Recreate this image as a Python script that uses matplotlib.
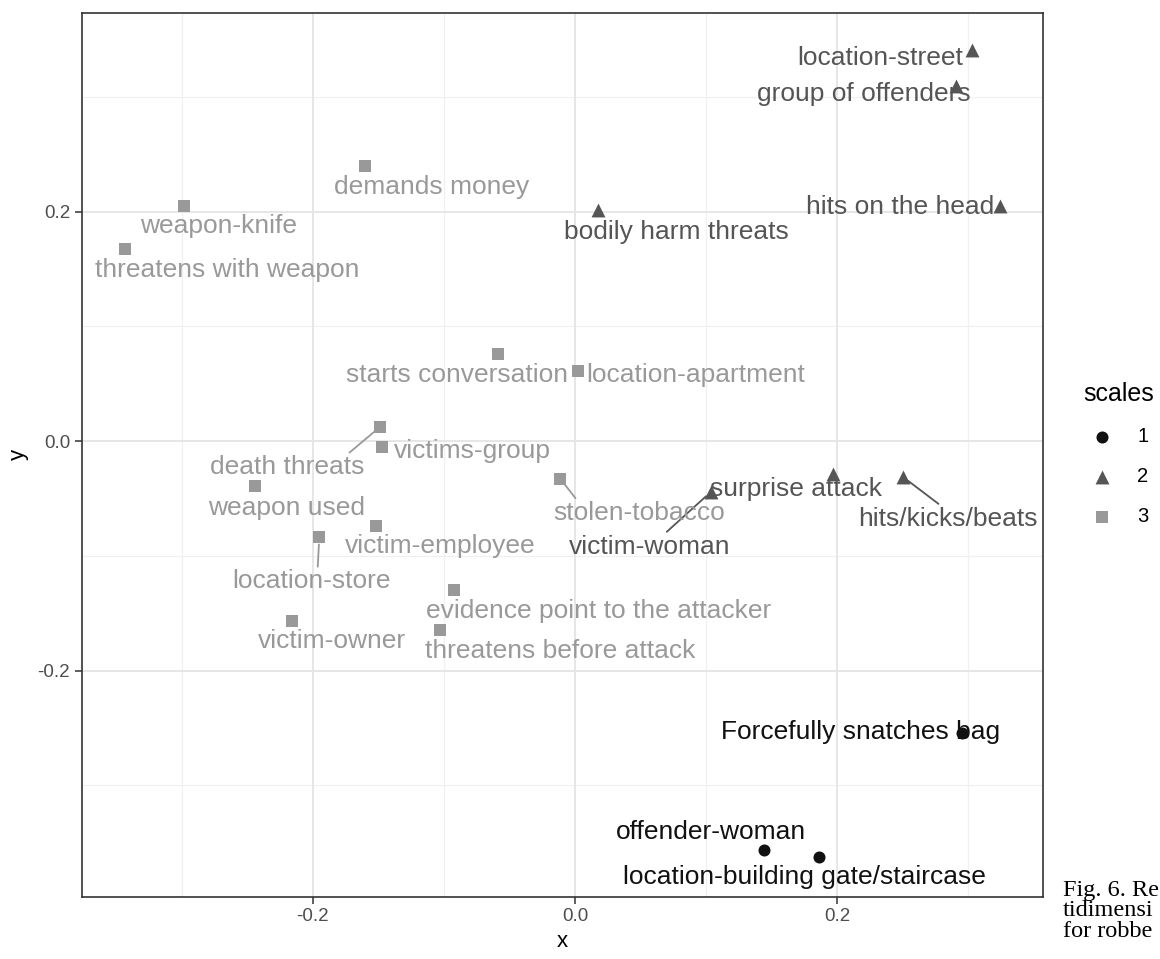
import matplotlib
matplotlib.use('Agg')
import matplotlib.pyplot as plt

plt.rcParams['font.family'] = ['Liberation Sans', 'DejaVu Sans']

# data
labels = ['location-street', 'group of offenders', 'hits on the head', 'bodily harm threats',
          'victim-woman', 'surprise attack', 'hits/kicks/beats',
          'Forcefully snatches bag', 'offender-woman', 'location-building gate/staircase',
          'demands money', 'weapon-knife', 'threatens with weapon', 'starts conversation',
          'location-apartment', 'death threats', 'victims-group', 'weapon used',
          'stolen-tobacco', 'victim-employee', 'location-store',
          'evidence point to the attacker', 'threatens before attack', 'victim-owner']
x = [0.303, 0.291, 0.324, 0.018, 0.104, 0.197, 0.250,
     0.295, 0.144, 0.186,
     -0.160, -0.298, -0.343, -0.059, 0.002, -0.149, -0.147, -0.244,
     -0.011, -0.152, -0.195, -0.092, -0.103, -0.216]
y = [0.341, 0.309, 0.205, 0.201, -0.044, -0.029, -0.031,
     -0.254, -0.356, -0.362,
     0.240, 0.205, 0.167, 0.076, 0.061, 0.012, -0.005, -0.039,
     -0.033, -0.074, -0.084, -0.130, -0.165, -0.157]
scales = [2, 2, 2, 2, 2, 2, 2,
          1, 1, 1,
          3, 3, 3, 3, 3, 3, 3, 3, 3, 3, 3, 3, 3, 3]

# label placement (pixel offsets, like the ggrepel output)
offsets = [(-92, -8), (-93, -8), (-99, -1), (78, -22), (-62, -55), (-37, -15), (45, -42),
           (-101, 1), (-53, 18), (-14, -20),
           (66, -21), (34, -20), (102, -21), (-41, -21), (118, -4), (-92, -40), (90, -4),
           (32, -22), (79, -34), (65, -20), (-8, -44), (144, -21), (120, -21), (40, -20)]
# where the segment leaves the label box (None = no segment)
seg_rel = [None, None, None, None, (0.59, 1.0), (0.62, 1.0), (0.47, 1.0),
           None, None, None,
           None, None, None, None, None, (0.88, 1.0), None, None, (0.14, 1.0), None, (0.54, 1.0),
           None, None, None]

colors = {1: '#111111', 2: '#555555', 3: '#999999'}
markers = {1: 'o', 2: '^', 3: 's'}
msize = {1: 75, 2: 100, 3: 70}

fig = plt.figure(figsize=(11.6, 9.59), dpi=100)
ax = fig.add_axes([0.0707, 0.065, 0.8283, 0.9214])

# grid like theme_bw
for v in [-0.3, -0.1, 0.1, 0.3]:
    ax.axvline(v, color='#f0f0f0', lw=0.9, zorder=0)
    ax.axhline(v, color='#f0f0f0', lw=0.9, zorder=0)
for v in [-0.2, 0.0, 0.2]:
    ax.axvline(v, color='#e6e6e6', lw=1.4, zorder=0)
    ax.axhline(v, color='#e6e6e6', lw=1.4, zorder=0)

for g in [1, 2, 3]:
    xs = [x[i] for i in range(len(x)) if scales[i] == g]
    ys = [y[i] for i in range(len(y)) if scales[i] == g]
    ax.scatter(xs, ys, s=msize[g], marker=markers[g], color=colors[g],
               linewidths=0, zorder=3, label=str(g))

for i, lab in enumerate(labels):
    c = colors[scales[i]]
    ap = None
    if seg_rel[i] is not None:
        ap = dict(arrowstyle='-', color=c, lw=1.3, shrinkA=0, shrinkB=5, relpos=seg_rel[i])
    ax.annotate(lab, (x[i], y[i]), xytext=offsets[i], textcoords='offset pixels',
                ha='center', va='center', fontsize=19, color=c,
                arrowprops=ap, zorder=4)

ax.set_xlim(-0.376, 0.357)
ax.set_ylim(-0.397, 0.373)
ax.set_xticks([-0.2, 0.0, 0.2])
ax.set_xticklabels(['-0.2', '0.0', '0.2'])
ax.set_yticks([-0.2, 0.0, 0.2])
ax.set_yticklabels(['-0.2', '0.0', '0.2'])
ax.tick_params(labelsize=13.5, labelcolor='#4d4d4d', color='#333333', length=5, width=1.1)
for s in ax.spines.values():
    s.set_color('#333333')
    s.set_linewidth(1.2)
ax.set_xlabel('x', fontsize=16, labelpad=4)
ax.set_ylabel('y', fontsize=16, labelpad=6)

leg = fig.legend(loc='upper left', bbox_to_anchor=(1083 / 1160, 1 - 382 / 959), title='scales',
                 frameon=False, fontsize=14.5, title_fontsize=18, handlelength=1.9,
                 handletextpad=0.8, labelspacing=1.05, borderpad=0, borderaxespad=0,
                 alignment='left')

# caption of the page, cut by the image edge
fig.text(1063 / 1160, 1 - 911 / 959, 'Fig. 6. Re\ntidimensi\nfor robbe',
         family=['Liberation Serif', 'DejaVu Serif'], fontsize=17.5, va='center',
         ha='left', linespacing=0.97)

fig.savefig('out.png', dpi=100)
